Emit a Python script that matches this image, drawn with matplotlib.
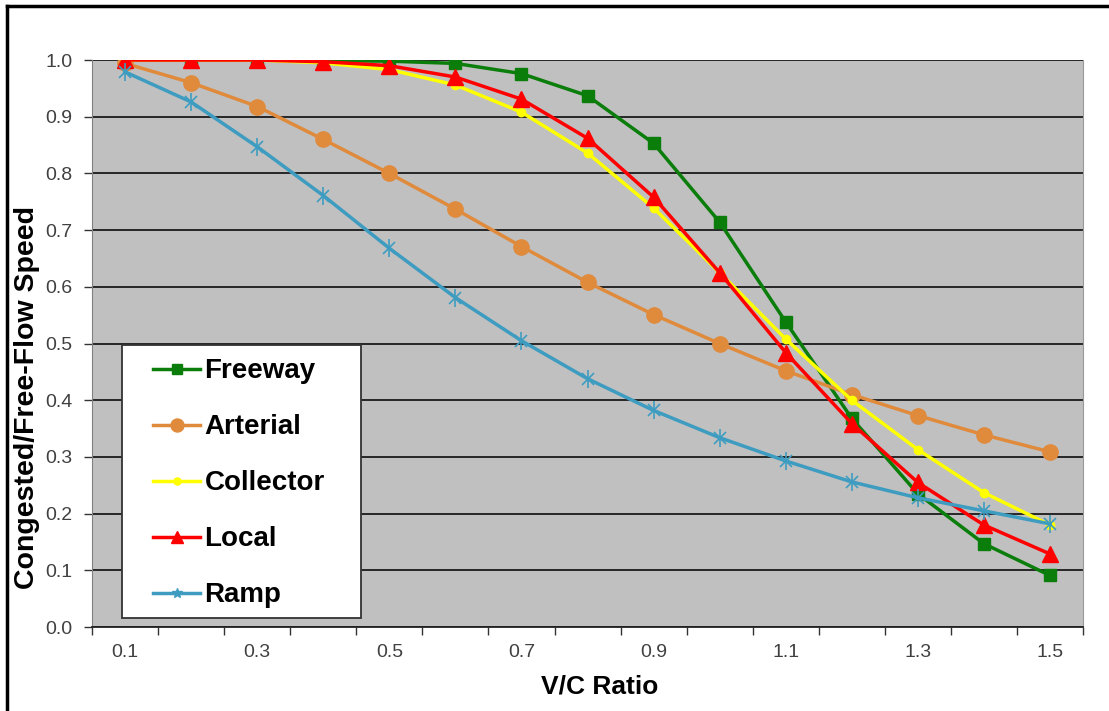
import matplotlib

matplotlib.use("Agg")

import matplotlib.pyplot as plt
from matplotlib.lines import Line2D
from matplotlib.patches import Rectangle

plt.rcParams["font.family"] = ["Liberation Sans", "DejaVu Sans"]

vc_ratio = [0.1, 0.2, 0.3, 0.4, 0.5, 0.6, 0.7, 0.8, 0.9, 1.0, 1.1, 1.2, 1.3, 1.4, 1.5]

freeway = [1.0, 1.0, 1.0, 0.999, 0.998, 0.994, 0.976, 0.937, 0.853, 0.714, 0.538,
           0.368, 0.235, 0.147, 0.091]
arterial = [0.994, 0.96, 0.918, 0.86, 0.80, 0.737, 0.671, 0.608, 0.551, 0.50, 0.452,
            0.41, 0.373, 0.339, 0.309]
collector = [1.0, 1.0, 1.0, 0.995, 0.983, 0.956, 0.908, 0.836, 0.739, 0.625, 0.508,
             0.40, 0.313, 0.237, 0.18]
local = [1.0, 1.0, 1.0, 0.997, 0.99, 0.97, 0.931, 0.862, 0.758, 0.625, 0.484,
         0.359, 0.255, 0.18, 0.129]
ramp = [0.979, 0.926, 0.847, 0.761, 0.668, 0.581, 0.505, 0.438, 0.382, 0.334, 0.293,
        0.256, 0.228, 0.205, 0.182]

x_labels = ["0.1", "0.3", "0.5", "0.7", "0.9", "1.1", "1.3", "1.5"]

series = [
    ("Freeway", freeway, "#0a7d0a", "s", 8),
    ("Arterial", arterial, "#e08a3c", "o", 11),
    ("Collector", collector, "#ffff00", "o", 6),
    ("Local", local, "#ff0000", "^", 11),
    ("Ramp", ramp, "#3d9cc0", "x", 9),
]

fig = plt.figure(figsize=(11.09, 7.11), dpi=100)
ax = fig.add_axes([0.083, 0.118, 0.8936, 0.7976])
ax.set_facecolor("#c0c0c0")

for name, values, color, marker, size in series:
    if marker == "x":
        ax.plot(vc_ratio, values, color=color, lw=2.5, marker="x", ms=size,
                mew=1.2, label=name, zorder=3)
        ax.plot(vc_ratio, values, color=color, lw=0, marker="|", ms=size + 4,
                mew=1.2, zorder=3)
    else:
        ax.plot(vc_ratio, values, color=color, lw=2.5, marker=marker, ms=size,
                label=name, zorder=3)

ax.set_xlim(0.05, 1.55)
ax.set_ylim(0, 1.0)

# category-style axis: tick marks between points, labels on every other point
ax.set_xticks([0.05 + 0.1 * i for i in range(16)])
ax.set_xticklabels([])
ax.set_xticks([float(v) for v in x_labels], minor=True)
ax.set_xticklabels(x_labels, minor=True)
ax.tick_params(axis="x", which="major", length=6, width=1, color="#333333",
               direction="out")
ax.tick_params(axis="x", which="minor", length=0, pad=12, labelsize=14,
               labelcolor="#404040")

ax.set_yticks([i / 10 for i in range(11)])
ax.set_yticklabels([f"{i / 10:.1f}" for i in range(11)])
ax.tick_params(axis="y", length=6, width=1, color="#333333", pad=8,
               labelsize=14, labelcolor="#404040")

ax.grid(axis="y", color="#1a1a1a", lw=1.3, zorder=1)
ax.set_axisbelow(True)

ax.spines["top"].set_visible(False)
ax.spines["right"].set_color("#999999")
ax.spines["left"].set_color("#808080")
ax.spines["bottom"].set_color("#222222")
ax.spines["bottom"].set_linewidth(1.3)

ax.set_xlabel("V/C Ratio", fontsize=19, fontweight="bold")
ax.xaxis.set_label_coords(0.512, -0.083)
ax.set_ylabel("Congested/Free-Flow Speed", fontsize=20.5, fontweight="bold")
ax.yaxis.set_label_coords(-0.053, 0.405)

handles = []
for name, values, color, marker, size in series:
    m = "*" if marker == "x" else marker
    handles.append(Line2D([], [], color=color, lw=2.5, marker=m,
                          ms=size * 0.85, label=name))

# legend box drawn separately so entries can be spaced like the original
ax.add_patch(Rectangle((0.03, 0.016), 0.241, 0.4815, transform=ax.transAxes,
                       facecolor="white", edgecolor="#333333", lw=1.3, zorder=4))

leg = ax.legend(handles=handles, loc="upper left", bbox_to_anchor=(0.0616, 0.474),
                frameon=False, prop={"size": 20, "weight": "bold"},
                handlelength=1.7, handletextpad=0.15, labelspacing=1.08,
                borderpad=0, borderaxespad=0)
leg.set_zorder(5)

# frame around the figure (left and top edges only, as in the source image)
fig.add_artist(Line2D([7 / 1109, 7 / 1109], [0, 1 - 6 / 711], color="black",
                      lw=2.5, transform=fig.transFigure))
fig.add_artist(Line2D([7 / 1109, 1], [1 - 6 / 711, 1 - 6 / 711], color="black",
                      lw=2.5, transform=fig.transFigure))

fig.savefig("out.png", dpi=100, facecolor="white")
